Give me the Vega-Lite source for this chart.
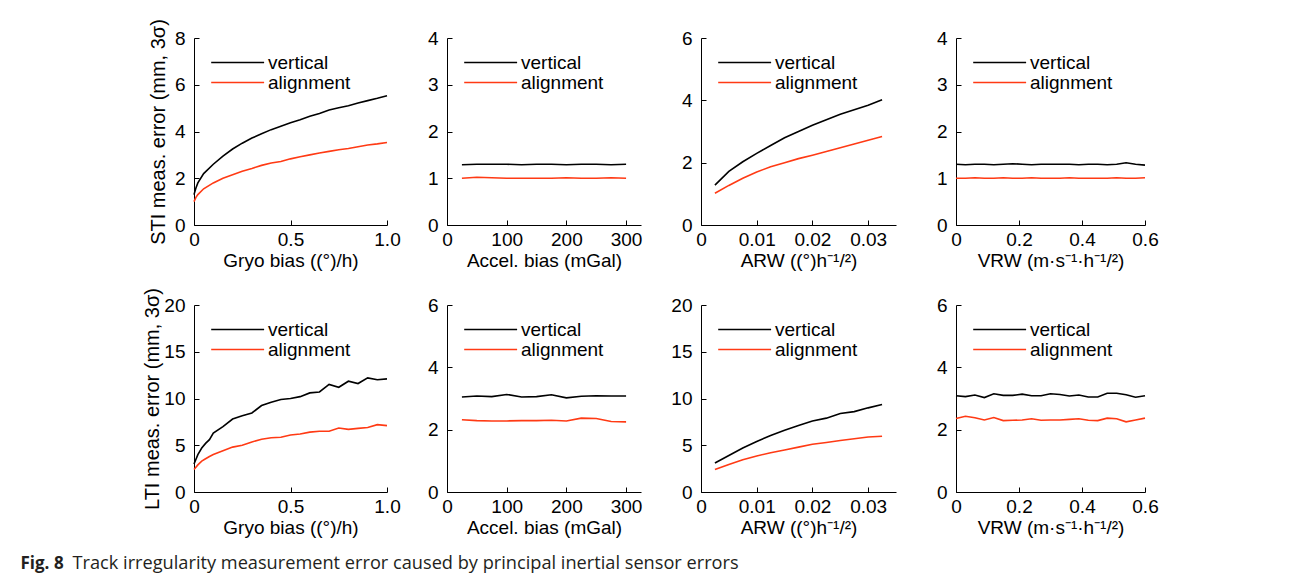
{
"$schema": "https://vega.github.io/schema/vega-lite/v6.json",
"background": "white",
"padding": {"left": 20, "top": 18, "right": 5, "bottom": 5},
"datasets": {
"p1": [
{"x":0,"vertical":1.3,"alignment":1.0},{"x":0.01,"vertical":1.58,"alignment":1.18},{"x":0.02,"vertical":1.8,"alignment":1.3},{"x":0.05,"vertical":2.2,"alignment":1.55},{"x":0.1,"vertical":2.6,"alignment":1.8},{"x":0.15,"vertical":2.95,"alignment":2.0},{"x":0.2,"vertical":3.25,"alignment":2.15},{"x":0.25,"vertical":3.5,"alignment":2.3},{"x":0.3,"vertical":3.72,"alignment":2.42},{"x":0.35,"vertical":3.9,"alignment":2.55},{"x":0.4,"vertical":4.08,"alignment":2.65},{"x":0.45,"vertical":4.22,"alignment":2.72},{"x":0.5,"vertical":4.37,"alignment":2.83},{"x":0.55,"vertical":4.5,"alignment":2.92},{"x":0.6,"vertical":4.65,"alignment":3.0},{"x":0.65,"vertical":4.77,"alignment":3.08},{"x":0.7,"vertical":4.92,"alignment":3.15},{"x":0.75,"vertical":5.02,"alignment":3.22},{"x":0.8,"vertical":5.1,"alignment":3.27},{"x":0.85,"vertical":5.22,"alignment":3.35},{"x":0.9,"vertical":5.32,"alignment":3.42},{"x":0.95,"vertical":5.42,"alignment":3.47},{"x":1.0,"vertical":5.53,"alignment":3.53}
],
"p2": [
{"x":25,"vertical":1.29,"alignment":1.0},{"x":50,"vertical":1.3,"alignment":1.02},{"x":75,"vertical":1.3,"alignment":1.01},{"x":100,"vertical":1.3,"alignment":1.0},{"x":125,"vertical":1.29,"alignment":1.0},{"x":150,"vertical":1.3,"alignment":1.0},{"x":175,"vertical":1.3,"alignment":1.0},{"x":200,"vertical":1.29,"alignment":1.01},{"x":225,"vertical":1.3,"alignment":1.0},{"x":250,"vertical":1.3,"alignment":1.0},{"x":275,"vertical":1.29,"alignment":1.01},{"x":300,"vertical":1.3,"alignment":1.0}
],
"p3": [
{"x":0.0025,"vertical":1.28,"alignment":1.02},{"x":0.005,"vertical":1.72,"alignment":1.27},{"x":0.0075,"vertical":2.03,"alignment":1.5},{"x":0.01,"vertical":2.3,"alignment":1.7},{"x":0.0125,"vertical":2.55,"alignment":1.87},{"x":0.015,"vertical":2.8,"alignment":2.0},{"x":0.0175,"vertical":3.0,"alignment":2.13},{"x":0.02,"vertical":3.2,"alignment":2.24},{"x":0.0225,"vertical":3.38,"alignment":2.36},{"x":0.025,"vertical":3.55,"alignment":2.48},{"x":0.0275,"vertical":3.7,"alignment":2.6},{"x":0.03,"vertical":3.84,"alignment":2.72},{"x":0.0325,"vertical":4.02,"alignment":2.84}
],
"p4": [
{"x":0,"vertical":1.3,"alignment":1.0},{"x":0.03,"vertical":1.29,"alignment":1.0},{"x":0.06,"vertical":1.3,"alignment":1.01},{"x":0.09,"vertical":1.3,"alignment":1.0},{"x":0.12,"vertical":1.29,"alignment":1.0},{"x":0.15,"vertical":1.3,"alignment":1.01},{"x":0.18,"vertical":1.31,"alignment":1.0},{"x":0.21,"vertical":1.3,"alignment":1.0},{"x":0.24,"vertical":1.29,"alignment":1.01},{"x":0.27,"vertical":1.3,"alignment":1.0},{"x":0.3,"vertical":1.3,"alignment":1.0},{"x":0.33,"vertical":1.3,"alignment":1.0},{"x":0.36,"vertical":1.3,"alignment":1.01},{"x":0.39,"vertical":1.29,"alignment":1.0},{"x":0.42,"vertical":1.3,"alignment":1.0},{"x":0.45,"vertical":1.3,"alignment":1.0},{"x":0.48,"vertical":1.29,"alignment":1.0},{"x":0.51,"vertical":1.3,"alignment":1.01},{"x":0.54,"vertical":1.33,"alignment":1.0},{"x":0.57,"vertical":1.3,"alignment":1.0},{"x":0.6,"vertical":1.28,"alignment":1.01}
],
"p5": [
{"x":0,"vertical":3.0,"alignment":2.4},{"x":0.02,"vertical":4.0,"alignment":2.9},{"x":0.04,"vertical":4.7,"alignment":3.3},{"x":0.06,"vertical":5.2,"alignment":3.55},{"x":0.08,"vertical":5.6,"alignment":3.8},{"x":0.1,"vertical":6.3,"alignment":4.0},{"x":0.15,"vertical":7.0,"alignment":4.4},{"x":0.2,"vertical":7.8,"alignment":4.8},{"x":0.25,"vertical":8.15,"alignment":5.0},{"x":0.3,"vertical":8.45,"alignment":5.35},{"x":0.35,"vertical":9.25,"alignment":5.65},{"x":0.4,"vertical":9.6,"alignment":5.8},{"x":0.45,"vertical":9.9,"alignment":5.85},{"x":0.5,"vertical":10.0,"alignment":6.1},{"x":0.55,"vertical":10.2,"alignment":6.2},{"x":0.6,"vertical":10.6,"alignment":6.4},{"x":0.65,"vertical":10.7,"alignment":6.5},{"x":0.7,"vertical":11.5,"alignment":6.5},{"x":0.75,"vertical":11.2,"alignment":6.85},{"x":0.8,"vertical":11.85,"alignment":6.7},{"x":0.85,"vertical":11.6,"alignment":6.8},{"x":0.9,"vertical":12.2,"alignment":6.9},{"x":0.95,"vertical":12.0,"alignment":7.2},{"x":1.0,"vertical":12.1,"alignment":7.1}
],
"p6": [
{"x":25,"vertical":3.05,"alignment":2.32},{"x":50,"vertical":3.08,"alignment":2.29},{"x":75,"vertical":3.06,"alignment":2.28},{"x":100,"vertical":3.13,"alignment":2.28},{"x":125,"vertical":3.05,"alignment":2.29},{"x":150,"vertical":3.06,"alignment":2.29},{"x":175,"vertical":3.12,"alignment":2.3},{"x":200,"vertical":3.02,"alignment":2.28},{"x":225,"vertical":3.07,"alignment":2.37},{"x":250,"vertical":3.09,"alignment":2.36},{"x":275,"vertical":3.08,"alignment":2.26},{"x":300,"vertical":3.08,"alignment":2.25}
],
"p7": [
{"x":0.0025,"vertical":3.1,"alignment":2.4},{"x":0.005,"vertical":3.9,"alignment":2.95},{"x":0.0075,"vertical":4.7,"alignment":3.45},{"x":0.01,"vertical":5.4,"alignment":3.85},{"x":0.0125,"vertical":6.05,"alignment":4.2},{"x":0.015,"vertical":6.6,"alignment":4.5},{"x":0.0175,"vertical":7.1,"alignment":4.8},{"x":0.02,"vertical":7.6,"alignment":5.1},{"x":0.0225,"vertical":7.9,"alignment":5.3},{"x":0.025,"vertical":8.4,"alignment":5.5},{"x":0.0275,"vertical":8.6,"alignment":5.7},{"x":0.03,"vertical":9.0,"alignment":5.88},{"x":0.0325,"vertical":9.35,"alignment":5.97}
],
"p8": [
{"x":0,"vertical":3.09,"alignment":2.36},{"x":0.03,"vertical":3.06,"alignment":2.43},{"x":0.06,"vertical":3.11,"alignment":2.38},{"x":0.09,"vertical":3.03,"alignment":2.31},{"x":0.12,"vertical":3.15,"alignment":2.39},{"x":0.15,"vertical":3.1,"alignment":2.29},{"x":0.18,"vertical":3.1,"alignment":2.3},{"x":0.21,"vertical":3.14,"alignment":2.31},{"x":0.24,"vertical":3.09,"alignment":2.35},{"x":0.27,"vertical":3.09,"alignment":2.3},{"x":0.3,"vertical":3.15,"alignment":2.31},{"x":0.33,"vertical":3.13,"alignment":2.31},{"x":0.36,"vertical":3.08,"alignment":2.33},{"x":0.39,"vertical":3.11,"alignment":2.35},{"x":0.42,"vertical":3.05,"alignment":2.3},{"x":0.45,"vertical":3.05,"alignment":2.29},{"x":0.48,"vertical":3.17,"alignment":2.37},{"x":0.51,"vertical":3.17,"alignment":2.35},{"x":0.54,"vertical":3.12,"alignment":2.25},{"x":0.57,"vertical":3.04,"alignment":2.31},{"x":0.6,"vertical":3.09,"alignment":2.37}
],
"cap": [{"fig":"Fig. 8","caption":"Track irregularity measurement error caused by principal inertial sensor errors"}]
},
"columns": 4,
"spacing": {"row": 80, "column": 60},
"bounds": "flush",
"resolve": {"legend": {"color": "independent"}},
"concat": [
{"width":193,"height":187,"data":{"name":"p1"},"transform":[{"fold":["vertical","alignment"],"as":["series","value"]}],"mark":{"type":"line","strokeWidth":1.6},
"encoding":{"x":{"field":"x","type":"quantitative","scale":{"domain":[0,1],"nice":false,"zero":false},"axis":{"title":"Gryo bias ((°)/h)","values":[0,0.5,1],"labelExpr":"datum.value == 0 ? '0' : format(datum.value, '.1f')"}},
"y":{"field":"value","type":"quantitative","scale":{"domain":[0,8],"nice":false},"axis":{"title":"STI meas. error (mm, 3σ)","values":[0,2,4,6,8],"titlePadding":6}},
"color":{"field":"series","type":"nominal","scale":{"domain":["vertical","alignment"],"range":["#000000","#ff3a14"]},"legend":{"title":null}}}},
{"width":194,"height":187,"data":{"name":"p2"},"transform":[{"fold":["vertical","alignment"],"as":["series","value"]}],"mark":{"type":"line","strokeWidth":1.6},
"encoding":{"x":{"field":"x","type":"quantitative","scale":{"domain":[0,325],"nice":false,"zero":false},"axis":{"title":"Accel. bias (mGal)","values":[0,100,200,300]}},
"y":{"field":"value","type":"quantitative","scale":{"domain":[0,4],"nice":false},"axis":{"title":null,"values":[0,1,2,3,4]}},
"color":{"field":"series","type":"nominal","scale":{"domain":["vertical","alignment"],"range":["#000000","#ff3a14"]},"legend":{"title":null}}}},
{"width":195,"height":187,"data":{"name":"p3"},"transform":[{"fold":["vertical","alignment"],"as":["series","value"]}],"mark":{"type":"line","strokeWidth":1.6},
"encoding":{"x":{"field":"x","type":"quantitative","scale":{"domain":[0,0.035],"nice":false,"zero":false},"axis":{"title":"ARW ((°)h⁻¹/²)","values":[0,0.01,0.02,0.03],"labelExpr":"datum.value == 0 ? '0' : format(datum.value, '.2f')"}},
"y":{"field":"value","type":"quantitative","scale":{"domain":[0,6],"nice":false},"axis":{"title":null,"values":[0,2,4,6]}},
"color":{"field":"series","type":"nominal","scale":{"domain":["vertical","alignment"],"range":["#000000","#ff3a14"]},"legend":{"title":null}}}},
{"width":189,"height":187,"data":{"name":"p4"},"transform":[{"fold":["vertical","alignment"],"as":["series","value"]}],"mark":{"type":"line","strokeWidth":1.6},
"encoding":{"x":{"field":"x","type":"quantitative","scale":{"domain":[0,0.6],"nice":false,"zero":false},"axis":{"title":"VRW (m·s⁻¹·h⁻¹/²)","values":[0,0.2,0.4,0.6],"labelExpr":"datum.value == 0 ? '0' : format(datum.value, '.1f')"}},
"y":{"field":"value","type":"quantitative","scale":{"domain":[0,4],"nice":false},"axis":{"title":null,"values":[0,1,2,3,4]}},
"color":{"field":"series","type":"nominal","scale":{"domain":["vertical","alignment"],"range":["#000000","#ff3a14"]},"legend":{"title":null}}}},
{"width":193,"height":187,"data":{"name":"p5"},"transform":[{"fold":["vertical","alignment"],"as":["series","value"]}],"mark":{"type":"line","strokeWidth":1.6},
"encoding":{"x":{"field":"x","type":"quantitative","scale":{"domain":[0,1],"nice":false,"zero":false},"axis":{"title":"Gryo bias ((°)/h)","values":[0,0.5,1],"labelExpr":"datum.value == 0 ? '0' : format(datum.value, '.1f')"}},
"y":{"field":"value","type":"quantitative","scale":{"domain":[0,20],"nice":false},"axis":{"title":"LTI meas. error (mm, 3σ)","values":[0,5,10,15,20],"titlePadding":1}},
"color":{"field":"series","type":"nominal","scale":{"domain":["vertical","alignment"],"range":["#000000","#ff3a14"]},"legend":{"title":null}}}},
{"width":194,"height":187,"data":{"name":"p6"},"transform":[{"fold":["vertical","alignment"],"as":["series","value"]}],"mark":{"type":"line","strokeWidth":1.6},
"encoding":{"x":{"field":"x","type":"quantitative","scale":{"domain":[0,325],"nice":false,"zero":false},"axis":{"title":"Accel. bias (mGal)","values":[0,100,200,300]}},
"y":{"field":"value","type":"quantitative","scale":{"domain":[0,6],"nice":false},"axis":{"title":null,"values":[0,2,4,6]}},
"color":{"field":"series","type":"nominal","scale":{"domain":["vertical","alignment"],"range":["#000000","#ff3a14"]},"legend":{"title":null}}}},
{"width":195,"height":187,"data":{"name":"p7"},"transform":[{"fold":["vertical","alignment"],"as":["series","value"]}],"mark":{"type":"line","strokeWidth":1.6},
"encoding":{"x":{"field":"x","type":"quantitative","scale":{"domain":[0,0.035],"nice":false,"zero":false},"axis":{"title":"ARW ((°)h⁻¹/²)","values":[0,0.01,0.02,0.03],"labelExpr":"datum.value == 0 ? '0' : format(datum.value, '.2f')"}},
"y":{"field":"value","type":"quantitative","scale":{"domain":[0,20],"nice":false},"axis":{"title":null,"values":[0,5,10,15,20]}},
"color":{"field":"series","type":"nominal","scale":{"domain":["vertical","alignment"],"range":["#000000","#ff3a14"]},"legend":{"title":null}}}},
{"width":189,"height":187,"data":{"name":"p8"},"transform":[{"fold":["vertical","alignment"],"as":["series","value"]}],"mark":{"type":"line","strokeWidth":1.6},
"encoding":{"x":{"field":"x","type":"quantitative","scale":{"domain":[0,0.6],"nice":false,"zero":false},"axis":{"title":"VRW (m·s⁻¹·h⁻¹/²)","values":[0,0.2,0.4,0.6],"labelExpr":"datum.value == 0 ? '0' : format(datum.value, '.1f')"}},
"y":{"field":"value","type":"quantitative","scale":{"domain":[0,6],"nice":false},"axis":{"title":null,"values":[0,2,4,6]}},
"color":{"field":"series","type":"nominal","scale":{"domain":["vertical","alignment"],"range":["#000000","#ff3a14"]},"legend":{"title":null}}}},
{
"width": 1, "height": 1,
"data": {"name": "cap"},
"layer": [
{"mark": {"type": "text", "align": "left", "baseline": "middle", "dx": -174, "dy": -9, "font": "Open Sans", "fontSize": 17, "fontWeight": "bold", "color": "#231f20"}, "encoding": {"text": {"field": "fig"}}},
{"mark": {"type": "text", "align": "left", "baseline": "middle", "dx": -122, "dy": -9, "font": "Open Sans", "fontSize": 18.2, "color": "#231f20"}, "encoding": {"text": {"field": "caption"}}}
]
}
],
"config": {
"view": {"stroke": null},
"axis": {"labelFont": "Liberation Sans", "labelFontSize": 19, "labelColor": "#000000", "titleFont": "Liberation Sans", "titleFontSize": 19, "titleFontWeight": "normal", "titleColor": "#000000", "domainColor": "#000000", "domainWidth": 1, "tickColor": "#000000", "tickSize": -5, "grid": false, "labelFlush": false, "labelOverlap": false},
"axisY": {"labelPadding": 14, "titleFontSize": 20},
"axisX": {"labelPadding": 10, "titlePadding": 2},
"legend": {"orient": "top-left", "offset": 15, "padding": 0, "labelFont": "Liberation Sans", "labelFontSize": 19, "labelColor": "#000000", "symbolType": "M-1.38,0H8.62", "symbolSize": 112, "symbolStrokeWidth": 1.6, "labelOffset": 40, "rowPadding": -1}
}
}
